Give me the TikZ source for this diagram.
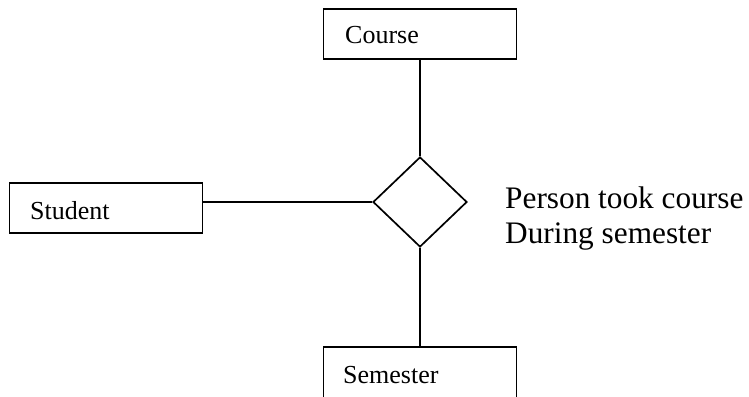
\documentclass[tikz,border=0pt]{standalone}
\usepackage{fontspec}
\setmainfont{Liberation Serif}
\usetikzlibrary{shapes.geometric}
\begin{document}
\begin{tikzpicture}[x=1pt,y=-1pt,
  entity/.style={draw,line width=1.7pt,minimum width=193pt,minimum height=50pt,inner sep=0pt},
  lbl/.style={anchor=base west,inner sep=0pt,font=\fontsize{26}{30}\selectfont},
  rel/.style={draw,diamond,line width=1.7pt,minimum width=94pt,minimum height=90pt,inner sep=0pt},
  link/.style={line width=1.7pt}]
  \clip (0,0) rectangle (749,396);
  \fill[white] (0,0) rectangle (749,396);
  % entity boxes
  \node[entity] (course) at (420,34) {};
  \node[entity] (student) at (106,208) {};
  \node[entity,minimum height=52pt] (semester) at (420,373) {};
  \node[lbl] (courseT) at (345,44) {Course};
  \node[lbl] (studentT) at (30,219) {Student};
  \node[lbl] (semesterT) at (343,383) {Semester};
  % relationship
  \node[rel] (took) at (420,202) {};
  \node[anchor=base west,inner sep=0pt,align=left,font=\fontsize{31.3}{35}\selectfont]
    (desc) at (505,243) {Person took course\\During semester};
  % connectors
  \draw[link] (course.south) -- (took.north);
  \draw[link] (student.east |- took.west) -- (took.west);
  \draw[link] (took.south) -- (semester.north);
\end{tikzpicture}
\end{document}
